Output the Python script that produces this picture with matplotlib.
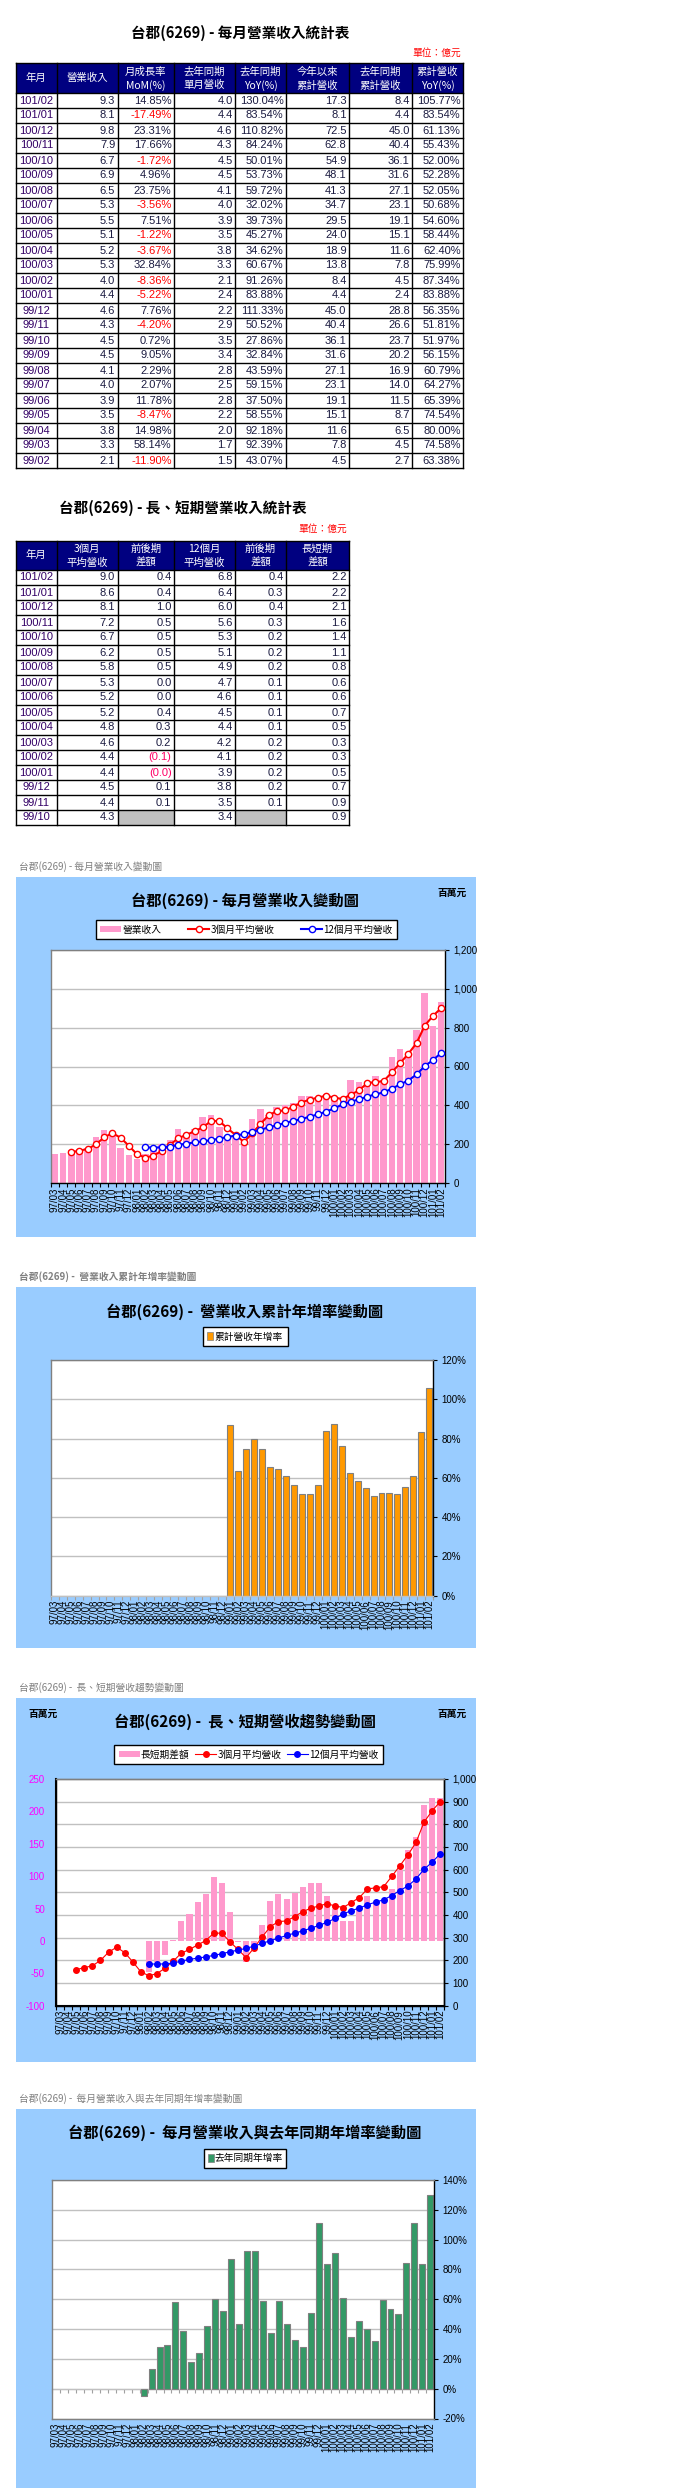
import numpy as np
import matplotlib
matplotlib.use('Agg')
import matplotlib.pyplot as plt
from matplotlib.patches import Rectangle, Patch
from matplotlib.lines import Line2D
from matplotlib.ticker import StrMethodFormatter

W, H = 696, 2491
CJK = ['Noto Sans CJK TC', 'DejaVu Sans']
NUM = ['Liberation Sans Narrow', 'Liberation Sans', 'DejaVu Sans']
plt.rcParams['font.family'] = CJK
plt.rcParams['axes.unicode_minus'] = False

# ---------------- 資料 ----------------
months = ['97/03', '97/04', '97/05', '97/06', '97/07', '97/08', '97/09', '97/10', '97/11', '97/12',
          '98/01', '98/02', '98/03', '98/04', '98/05', '98/06', '98/07', '98/08', '98/09', '98/10',
          '98/11', '98/12', '99/01', '99/02', '99/03', '99/04', '99/05', '99/06', '99/07', '99/08',
          '99/09', '99/10', '99/11', '99/12', '100/01', '100/02', '100/03', '100/04', '100/05',
          '100/06', '100/07', '100/08', '100/09', '100/10', '100/11', '100/12', '101/01', '101/02']

# 百萬元
revenue = [150, 156, 171, 177, 180, 238, 274, 247, 181, 145,
           127, 150, 170, 200, 220, 280, 250, 280, 340, 350,
           290, 220, 240, 210, 330, 380, 350, 390, 400, 410,
           450, 450, 430, 460, 440, 400, 530, 520, 510,
           550, 530, 650, 690, 670, 790, 980, 810, 930]
avg3 = [None, None, 159, 168, 176, 200, 236, 258, 234, 193,
        149, 132, 142, 166, 197, 232, 248, 268, 287, 320,
        320, 282, 248, 212, 256, 304, 349, 371, 374, 393,
        415, 430, 440, 450, 440, 433, 455, 477, 515,
        520, 525, 570, 617, 665, 720, 810, 860, 900]
avg12 = [None, None, None, None, None, None, None, None, None, None,
         None, 185, 183, 185, 188, 197, 204, 210, 215, 222,
         229, 238, 245, 253, 263, 275, 287, 298, 310, 320,
         330, 342, 354, 368, 385, 405, 419, 431, 445,
         457, 467, 486, 508, 528, 559, 602, 633, 670]
long_short = [None, None, None, None, None, None, None, None, None, None,
              None, -48, -33, -22, 2, 30, 42, 60, 72, 98,
              90, 45, -2, -33, -10, 24, 61, 72, 64, 74,
              83, 90, 90, 70, 50, 30, 30, 50, 70,
              60, 60, 80, 110, 140, 160, 210, 220, 220]
cum_yoy = [None, None, None, None, None, None, None, None, None, None,
           None, None, None, None, None, None, None, None, None, None,
           None, None, 86.8, 63.38, 74.58, 80.00, 74.54, 65.39, 64.27, 60.79,
           56.15, 51.97, 51.81, 56.35, 83.88, 87.34, 75.99, 62.40, 58.44,
           54.60, 50.68, 52.05, 52.28, 52.00, 55.43, 61.13, 83.54, 105.77]
yoy = [None, None, None, None, None, None, None, None, None, None,
       None, -5, 13, 28, 29, 58, 39, 18, 24, 42,
       60, 52, 87, 43.07, 92.39, 92.18, 58.55, 37.50, 59.15, 43.59,
       32.84, 27.86, 50.52, 111.33, 83.88, 91.26, 60.67, 34.62, 45.27,
       39.73, 32.02, 59.72, 53.73, 50.01, 84.24, 110.82, 83.54, 130.04]

# 每月營業收入統計表 (億元)
t1_month = ['101/02', '101/01', '100/12', '100/11', '100/10', '100/09', '100/08', '100/07', '100/06',
            '100/05', '100/04', '100/03', '100/02', '100/01', '99/12', '99/11', '99/10', '99/09',
            '99/08', '99/07', '99/06', '99/05', '99/04', '99/03', '99/02']
t1_rev = [9.3, 8.1, 9.8, 7.9, 6.7, 6.9, 6.5, 5.3, 5.5, 5.1, 5.2, 5.3, 4.0, 4.4, 4.6, 4.3, 4.5,
          4.5, 4.1, 4.0, 3.9, 3.5, 3.8, 3.3, 2.1]
t1_mom = [14.85, -17.49, 23.31, 17.66, -1.72, 4.96, 23.75, -3.56, 7.51, -1.22, -3.67, 32.84,
          -8.36, -5.22, 7.76, -4.20, 0.72, 9.05, 2.29, 2.07, 11.78, -8.47, 14.98, 58.14, -11.90]
t1_ly = [4.0, 4.4, 4.6, 4.3, 4.5, 4.5, 4.1, 4.0, 3.9, 3.5, 3.8, 3.3, 2.1, 2.4, 2.2, 2.9, 3.5,
         3.4, 2.8, 2.5, 2.8, 2.2, 2.0, 1.7, 1.5]
t1_yoy = [130.04, 83.54, 110.82, 84.24, 50.01, 53.73, 59.72, 32.02, 39.73, 45.27, 34.62, 60.67,
          91.26, 83.88, 111.33, 50.52, 27.86, 32.84, 43.59, 59.15, 37.50, 58.55, 92.18, 92.39, 43.07]
t1_cum = [17.3, 8.1, 72.5, 62.8, 54.9, 48.1, 41.3, 34.7, 29.5, 24.0, 18.9, 13.8, 8.4, 4.4, 45.0,
          40.4, 36.1, 31.6, 27.1, 23.1, 19.1, 15.1, 11.6, 7.8, 4.5]
t1_ly_cum = [8.4, 4.4, 45.0, 40.4, 36.1, 31.6, 27.1, 23.1, 19.1, 15.1, 11.6, 7.8, 4.5, 2.4, 28.8,
             26.6, 23.7, 20.2, 16.9, 14.0, 11.5, 8.7, 6.5, 4.5, 2.7]
t1_cum_yoy = [105.77, 83.54, 61.13, 55.43, 52.00, 52.28, 52.05, 50.68, 54.60, 58.44, 62.40, 75.99,
              87.34, 83.88, 56.35, 51.81, 51.97, 56.15, 60.79, 64.27, 65.39, 74.54, 80.00, 74.58, 63.38]

# 長、短期營業收入統計表 (億元)
t2_month = ['101/02', '101/01', '100/12', '100/11', '100/10', '100/09', '100/08', '100/07', '100/06',
            '100/05', '100/04', '100/03', '100/02', '100/01', '99/12', '99/11', '99/10']
t2_avg3 = [9.0, 8.6, 8.1, 7.2, 6.7, 6.2, 5.8, 5.3, 5.2, 5.2, 4.8, 4.6, 4.4, 4.4, 4.5, 4.4, 4.3]
t2_avg3_chg = [0.4, 0.4, 1.0, 0.5, 0.5, 0.5, 0.5, 0.0, 0.0, 0.4, 0.3, 0.2, -0.1, -0.04, 0.1, 0.1, None]
t2_avg12 = [6.8, 6.4, 6.0, 5.6, 5.3, 5.1, 4.9, 4.7, 4.6, 4.5, 4.4, 4.2, 4.1, 3.9, 3.8, 3.5, 3.4]
t2_avg12_chg = [0.4, 0.3, 0.4, 0.3, 0.2, 0.2, 0.2, 0.1, 0.1, 0.1, 0.1, 0.2, 0.2, 0.2, 0.2, 0.1, None]
t2_diff = [2.2, 2.2, 2.1, 1.6, 1.4, 1.1, 0.8, 0.6, 0.6, 0.7, 0.5, 0.3, 0.3, 0.5, 0.7, 0.9, 0.9]

# ---------------- 版面 ----------------
NAVY = '#000080'
PANEL = '#99CCFF'
PINK = '#FF99CC'
DATE_C = '#330066'
NUM_C = '#1a1a40'

fig = plt.figure(figsize=(W / 100, H / 100), dpi=100)
bg = fig.add_axes([0, 0, 1, 1], zorder=0)
bg.set_xlim(0, W)
bg.set_ylim(H, 0)
bg.axis('off')


def box(l, t, r, b):
    return fig.add_axes([l / W, 1 - b / H, (r - l) / W, (b - t) / H], zorder=2)


def fmt1(v):
    return f'{v:.1f}'


def fmt_pct(v):
    return f'{v:.2f}%'


def fmt_paren(v):
    if v is None:
        return ''
    return f'({abs(v):.1f})' if v < 0 else f'{v:.1f}'


def draw_table(cols, top, hdr_h, row_h, headers, dates, columns, neg_color):
    n = len(dates)
    bottom = top + hdr_h + n * row_h
    bg.add_patch(Rectangle((cols[0], top), cols[-1] - cols[0], hdr_h, fc=NAVY, ec='none'))
    for c, lines in enumerate(headers):
        cx = (cols[c] + cols[c + 1]) / 2
        if len(lines) == 1:
            bg.text(cx, top + hdr_h / 2, lines[0], color='white', ha='center', va='center',
                    fontsize=7.5)
        else:
            bg.text(cx, top + hdr_h * 0.29, lines[0], color='white', ha='center', va='center',
                    fontsize=7.5)
            bg.text(cx, top + hdr_h * 0.74, lines[1], color='white', ha='center', va='center',
                    fontsize=7.5)
    for r in range(n):
        yc = top + hdr_h + (r + 0.5) * row_h
        bg.text((cols[0] + cols[1]) / 2, yc, dates[r], color=DATE_C, ha='center', va='center',
                fontsize=8, family=NUM)
        for c, (vals, f) in enumerate(columns):
            v = vals[r]
            if v is None:
                bg.add_patch(Rectangle((cols[c + 1], yc - row_h / 2), cols[c + 2] - cols[c + 1],
                                       row_h, fc='#C0C0C0', ec='none'))
                continue
            color = neg_color if (v < 0 and f is not fmt1) else NUM_C
            bg.text(cols[c + 2] - 2.5, yc, f(v), color=color, ha='right', va='center',
                    fontsize=8, family=NUM)
    for xv in cols:
        bg.plot([xv, xv], [top, bottom], color='black', lw=1)
    bg.plot([cols[0], cols[-1]], [top, top], color='black', lw=1)
    for r in range(n + 1):
        yv = top + hdr_h + r * row_h
        bg.plot([cols[0], cols[-1]], [yv, yv], color='black', lw=1)


# 表一
bg.text(240, 33, '台郡(6269) - 每月營業收入統計表', ha='center', va='center', fontsize=10.5,
        fontweight='bold')
bg.text(461, 53, '單位：億元', ha='right', va='center', fontsize=7, color='red')
cols1 = [16, 56.7, 117.7, 174, 235, 286, 349, 412.3, 463]
hdr1 = [['年月'], ['營業收入'], ['月成長率', 'MoM(%)'], ['去年同期', '單月營收'],
        ['去年同期', 'YoY(%)'], ['今年以來', '累計營收'], ['去年同期', '累計營收'],
        ['累計營收', 'YoY(%)']]
draw_table(cols1, 63, 30, 15, hdr1, t1_month,
           [(t1_rev, fmt1), (t1_mom, fmt_pct), (t1_ly, fmt1), (t1_yoy, fmt_pct),
            (t1_cum, fmt1), (t1_ly_cum, fmt1), (t1_cum_yoy, fmt_pct)], 'red')

# 表二
bg.text(183, 508, '台郡(6269) - 長、短期營業收入統計表', ha='center', va='center', fontsize=10.5,
        fontweight='bold')
bg.text(347, 529, '單位：億元', ha='right', va='center', fontsize=7, color='red')
cols2 = [16, 56.7, 117.7, 174, 235, 286, 349]
hdr2 = [['年月'], ['3個月', '平均營收'], ['前後期', '差額'], ['12個月', '平均營收'],
        ['前後期', '差額'], ['長短期', '差額']]
draw_table(cols2, 540.7, 29.3, 15, hdr2, t2_month,
           [(t2_avg3, fmt1), (t2_avg3_chg, fmt_paren), (t2_avg12, fmt1),
            (t2_avg12_chg, fmt_paren), (t2_diff, fmt1)], '#FF0066')

# ---------------- 圖表共用 ----------------
x = np.arange(len(months))
bounds = np.arange(-0.5, len(months), 1)


def panel(caption, cap_y, top, bottom, title, title_y, bold_cap=False):
    bg.text(19, cap_y, caption, ha='left', va='center', fontsize=7, color='#808080',
            fontweight='bold' if bold_cap else 'normal')
    bg.add_patch(Rectangle((16, top), 460, bottom - top, fc=PANEL, ec='none'))
    bg.text(245, title_y, title, ha='center', va='center', fontsize=11, fontweight='bold')


def legend(handles, labels, l, t, r, b, ncol, **kw):
    leg = fig.legend(handles, labels, loc='center', ncol=ncol, mode='expand',
                     bbox_to_anchor=(l / W, 1 - b / H, (r - l) / W, (b - t) / H),
                     frameon=True, fancybox=False, edgecolor='black', framealpha=1,
                     fontsize=7, borderpad=0.45, handletextpad=0.1, **kw)
    leg.get_frame().set_linewidth(1)
    return leg


def cat_axis(ax, axis_color='black'):
    ax.set_xlim(-0.5, len(months) - 0.5)
    ax.set_xticks(bounds)
    ax.set_xticklabels([])
    ax.set_xticks(x, months, minor=True)
    ax.tick_params(axis='x', which='major', length=3, direction='out', color=axis_color)
    ax.tick_params(axis='x', which='minor', length=0, labelrotation=90, labelsize=7, pad=3)
    for lab in ax.get_xticklabels(minor=True):
        lab.set_family(NUM)


def right_axis(ax, fmt, color='black'):
    ax.yaxis.tick_right()
    ax.yaxis.set_major_formatter(StrMethodFormatter(fmt))
    ax.tick_params(axis='y', length=3, direction='out', labelsize=7, pad=3, labelcolor=color)
    for lab in ax.get_yticklabels():
        lab.set_family(NUM)


def spines(ax, left, top, right, bottom):
    for side, c in zip(['left', 'top', 'right', 'bottom'], [left, top, right, bottom]):
        ax.spines[side].set_color(c)
        ax.spines[side].set_linewidth(1)


def arr(v):
    return np.array(v, dtype=float)


# ---------------- 圖一 每月營業收入變動圖 ----------------
panel('台郡(6269) - 每月營業收入變動圖', 867, 877, 1237, '台郡(6269) - 每月營業收入變動圖', 901)
bg.text(452, 893, '百萬元', ha='center', va='center', fontsize=7, fontweight='bold')
ax1 = box(50.7, 949.7, 445.3, 1183.3)
ax1.bar(x, arr(revenue), width=0.8, color=PINK, zorder=2)
ax1.plot(x, arr(avg3), color='red', lw=1.5, marker='o', ms=4.5, mfc='white', mec='red',
         mew=1, zorder=3)
ax1.plot(x, arr(avg12), color='blue', lw=1.5, marker='o', ms=4.5, mfc='white', mec='blue',
         mew=1, zorder=3)
ax1.set_ylim(0, 1200)
ax1.set_yticks(range(0, 1201, 200))
ax1.yaxis.grid(True, color='#C0C0C0', lw=1)
ax1.set_axisbelow(True)
cat_axis(ax1)
right_axis(ax1, '{x:,.0f}')
spines(ax1, '#808080', '#808080', 'black', 'black')
legend([Patch(fc=PINK),
        Line2D([], [], color='red', lw=1.5, marker='o', ms=4.5, mfc='white', mec='red'),
        Line2D([], [], color='blue', lw=1.5, marker='o', ms=4.5, mfc='white', mec='blue')],
       ['營業收入', '3個月平均營收', '12個月平均營收'], 90.7, 917, 402, 942, 3,
       handlelength=2.2, handleheight=0.6, columnspacing=1.0)

# ---------------- 圖二 營業收入累計年增率變動圖 ----------------
panel('台郡(6269) -  營業收入累計年增率變動圖', 1277, 1287, 1648,
      '台郡(6269) -  營業收入累計年增率變動圖', 1312, bold_cap=True)
ax2 = box(50.7, 1360, 433.3, 1595.7)
ax2.bar(x, arr(cum_yoy), width=0.75, color='#FF9900', edgecolor='#808080', lw=0.8, zorder=2)
ax2.set_ylim(0, 120)
ax2.set_yticks(range(0, 121, 20))
ax2.yaxis.grid(True, color='#C0C0C0', lw=1)
ax2.set_axisbelow(True)
cat_axis(ax2, '#A0A0A0')
right_axis(ax2, '{x:.0f}%')
spines(ax2, '#808080', '#808080', 'black', '#C0C0C0')
legend([Patch(fc='#FF9900', ec='#808080', lw=0.5)], ['累計營收年增率'], 198, 1324, 293.3, 1349.3, 1,
       handlelength=0.6, handleheight=0.9)

# ---------------- 圖三 長、短期營收趨勢變動圖 ----------------
panel('台郡(6269) -  長、短期營收趨勢變動圖', 1688, 1698, 2062,
      '台郡(6269) -  長、短期營收趨勢變動圖', 1722)
bg.text(43, 1714, '百萬元', ha='center', va='center', fontsize=7, fontweight='bold')
bg.text(452, 1714, '百萬元', ha='center', va='center', fontsize=7, fontweight='bold')
ax3 = box(56, 1779, 444.3, 2005.7)
ax3.bar(x, arr(long_short), width=0.75, color=PINK, zorder=2)
ax3.set_ylim(-100, 250)
ax3.set_yticks(range(-100, 251, 50))
ax3.tick_params(axis='y', length=0, labelsize=7, pad=8, labelcolor='#FF00FF')
for lab in ax3.get_yticklabels():
    lab.set_family(NUM)
cat_axis(ax3)
ax3r = ax3.twinx()
ax3r.set_ylim(0, 1000)
ax3r.set_yticks(range(0, 1001, 100))
for v in range(100, 1000, 100):
    ax3.axhline(-100 + v * 350 / 1000, color='#C0C0C0', lw=1, zorder=1)
ax3r.plot(x, arr(avg3), color='red', lw=0.8, marker='o', ms=4, mec='red', zorder=3)
ax3r.plot(x, arr(avg12), color='blue', lw=0.8, marker='o', ms=4, mec='blue', zorder=3)
right_axis(ax3r, '{x:,.0f}')
spines(ax3, 'black', '#808080', 'black', 'black')
spines(ax3r, 'black', '#808080', 'black', 'black')
ax3.spines['left'].set_linewidth(1.5)
ax3.spines['bottom'].set_linewidth(1.5)
legend([Patch(fc=PINK),
        Line2D([], [], color='red', lw=0.8, marker='o', ms=4),
        Line2D([], [], color='blue', lw=0.8, marker='o', ms=4)],
       ['長短期差額', '3個月平均營收', '12個月平均營收'], 109.3, 1742.3, 387.7, 1766.7, 3,
       handlelength=2.2, handleheight=0.6, columnspacing=1.0)

# ---------------- 圖四 每月營業收入與去年同期年增率變動圖 ----------------
panel('台郡(6269) -  每月營業收入與去年同期年增率變動圖', 2099, 2109, 2488,
      '台郡(6269) -  每月營業收入與去年同期年增率變動圖', 2133)
ax4 = box(52, 2180, 434.3, 2418.5)
ax4.bar(x, arr(yoy), width=0.75, color='#339966', edgecolor='#808080', lw=0.8, zorder=2)
ax4.set_ylim(-20, 140)
ax4.set_yticks(range(-20, 141, 20))
ax4.yaxis.grid(True, color='#C0C0C0', lw=1)
ax4.set_axisbelow(True)
cat_axis(ax4, '#C0C0C0')
ax4.tick_params(axis='x', which='major', length=0)
right_axis(ax4, '{x:.0f}%')
spines(ax4, '#808080', '#808080', 'black', '#808080')
zero = ax4.secondary_xaxis(20 / 160)
zero.set_xticks(bounds)
zero.set_xticklabels([])
zero.tick_params(length=3, direction='out', color='#A0A0A0')
zero.spines['bottom'].set_color('#A0A0A0')
legend([Patch(fc='#339966', ec='#808080', lw=0.5)], ['去年同期年增率'], 198.7, 2146, 291, 2170.7, 1,
       handlelength=0.6, handleheight=0.9)

fig.savefig('out.png', dpi=100)
